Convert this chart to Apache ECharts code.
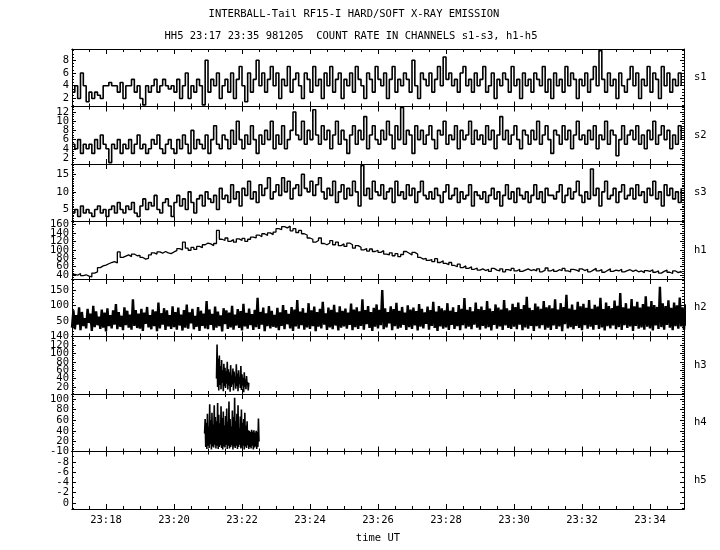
<!DOCTYPE html>
<html><head><meta charset="utf-8">
<script src="https://cdn.jsdelivr.net/npm/echarts@6/dist/echarts.min.js"></script>
<style>html,body{margin:0;padding:0;background:#fff}#c{width:720px;height:550px}</style>
</head><body><div id="c"></div><script>
// ---------------- data ----------------
const titleLine1 = 'INTERBALL-Tail RF15-I HARD/SOFT X-RAY EMISSION';
const titleLine2 = 'HH5 23:17 23:35 981205  COUNT RATE IN CHANNELS s1-s3, h1-h5';
const xAxisName = 'time UT';
const channels = ['s1','s2','s3','h1','h2','h3','h4','h5'];
// time axis in minutes after 23:00
const xMin = 17, xMax = 35;
const xTickMinutes = [18,20,22,24,26,28,30,32,34];
const xTickLabels = ['23:18','23:20','23:22','23:24','23:26','23:28','23:30','23:32','23:34'];
const yMin = [0.75, 0.7, 1.6, 31, 2, 3.5, 1.4, -10];
const yMax = [9.75, 13.2, 17.9, 167, 185, 140, 109, 1.2];
const yStep = [2, 2, 5, 20, 50, 20, 20, 2];
const yMinorSplit = [4, 4, 10, 4, 5, 4, 4, 2];
// sampling: start minute and cadence (minutes)
const sStart = 17, sCadence = 5/60;
const h2Start = 17, h2Cadence = 2.5/60;
const h3Start = 21.25, h3Cadence = 1/60;
const h4Start = 20.9, h4Cadence = 1/60;

const s1 = [3,4,2,6,4,1.5,3,2,3,2.5,2,4,4,4.5,4,4,3,4.5,
2,4,4,5,3,4,2,1,4,3,4,5,3,4,5,4,3.5,4,
3,5,2,4,6,2,4,3,5,4,1,8,3,5,4,6,2,4,
5,3,6,2,5,7,4,1.5,6,3,5,8,4,6,3,5,7,4,
6,2,5,4,7,3,5,6,4,2,6,5,3,7,4,5,2,6,
4,7,3,5,6,2,5,4,6,3,7,5,4,2,6,5,3,7,
5,4,6,2,5,7,3,5,4,6,5,3,8,4,2,6,5,4,
6,3,5,7,4,8.5,5,6,4,5,3,6,7,4,5,3,6,4,
5,7,3,4,6,2,5,4,6,5,3,7,4,5,2,6,4,5,
3,6,5,4,7,3,5,2,6,4,5,3,7,4,6,5,2,5,
4,6,3,5,7,4,9.5,5,3,6,4,5,2,6,4,3,5,7,
4,6,2,5,4,7,3,6,5,2,7,4,6,3,5,4,6,4];

const s2 = [5,4,6,3,5,4,5,3,6,4,7,5,4,1,5,4,6,3,
5,4,6,3,5,7,4,5,3,4,6,5,7,4,3,5,6,4,
3,6,4,7,5,3,8,4,6,5,4,7,3,6,9,5,4,7,
6,4,8,5,10,6,4,7,5,9,6,3,7,5,8,6,10,4,
7,5,9,4,6,8,12,7,6,10,5,8,6,12.5,7,5,9,6,
8,4,7,10,5,8,6,3,7,9,5,8,6,11,4,7,9,6,
5,8,6,10,7,4,9,6,13,5,8,7,3,9,6,8,5,7,
9,6,4,8,7,10,5,7,6,9,4,8,6,7,10,5,8,6,
7,5,9,6,8,4,7,11,6,8,5,7,9,6,4,8,7,5,
8,6,10,5,7,9,6,3,8,7,5,9,6,8,4,7,10,6,
7,5,8,6,9,4,7,6,10,5,8,7,2.5,6,9,5,7,8,
6,9,5,7,4,8,6,10,5,7,9,6,8,4,7,5,9,6];

const s3 = [4,5,3,6,4,5,4,3,5,6,4,5,3,5,6,4,7,5,
4,6,5,7,4,3,6,8,5,7,6,9,5,4,7,8,6,3,
7,9,6,8,5,10,7,4,8,9,6,10,8,7,9,5,11,8,
9,7,12,8,10,6,11,9,13,8,10,7,12,9,11,14,8,10,
12,9,14,10,13,8,11,12,9,15,11,10,13,9,12,14,10,8,
11,9,13,7,10,12,8,11,9,13,10,6,17.5,9,11,8,13,10,
9,12,8,10,11,7,13,9,10,8,12,9,11,7,10,13,9,8,
10,8,11,9,7,10,12,8,9,11,7,10,8,9,12,6,10,9,
8,10,7,9,11,8,10,6,9,12,8,10,7,11,9,8,10,7,
9,12,8,10,7,11,9,9,8,10,12,7,9,11,8,10,13,9,
7,10,8,16.5,9,11,6,10,13,8,9,11,7,10,12,8,9,11,
8,12,9,10,7,11,9,13,8,10,6,12,9,11,8,10,7,11];

const h1 = [42,40,44,39,41,38,36,45,48,58,62,64,67,70,72,69,95,82,
85,88,84,90,86,87,82,78,80,88,93,90,95,92,96,93,91,95,
98,103,100,118,104,99,106,101,108,105,112,116,114,110,115,146,125,122,
128,120,124,118,126,122,127,120,125,130,128,135,131,138,134,140,136,142,
150,148,155,152,156,145,150,141,146,138,135,128,125,118,122,128,115,112,
116,122,112,118,110,114,108,116,112,104,110,106,100,103,97,102,96,99,
94,98,90,88,93,86,91,84,89,96,92,88,94,90,82,78,80,75,
77,72,79,70,74,68,65,70,63,60,66,58,62,56,60,54,57,52,
55,51,54,49,56,52,50,55,48,53,51,56,50,54,49,52,55,51,
53,50,55,48,52,57,50,54,49,53,51,56,50,48,54,52,49,55,
51,54,48,52,56,50,53,47,51,55,49,52,50,54,48,51,53,49,
52,48,50,46,51,49,53,47,50,45,49,52,47,44,50,46,49,45];

const h2 = [30,85,25,70,40,95,22,80,35,60,28,90,45,75,20,100,32,82,38,65,26,88,30,78,
18,92,35,70,28,85,40,105,25,80,33,68,22,95,38,84,30,72,24,120,36,86,29,75,
27,90,20,78,42,96,31,70,25,88,35,82,19,110,28,76,40,92,23,85,34,70,26,98,
32,80,24,94,37,72,21,86,30,104,27,79,44,90,25,68,33,96,20,84,36,75,28,115,
25,88,39,74,22,97,30,81,35,69,18,92,41,85,26,78,31,100,24,72,37,89,29,83,
21,106,34,77,27,91,38,73,23,87,32,125,26,80,40,94,19,76,35,99,28,84,33,71,
30,93,22,79,36,102,25,86,41,74,28,96,20,88,34,118,27,81,38,92,24,77,31,108,
26,85,35,97,19,80,33,90,28,112,40,76,23,94,31,87,25,103,37,79,21,98,30,84,
34,91,27,78,39,107,22,88,32,95,26,82,36,120,24,86,41,99,29,80,20,93,33,104,
28,87,38,150,25,92,31,80,44,98,22,89,35,109,27,84,30,96,39,78,23,101,32,88,
26,94,37,83,21,105,33,90,28,79,42,97,24,86,36,112,29,81,20,99,34,92,27,85,
31,108,23,84,39,95,26,80,35,102,22,90,38,124,28,87,33,96,25,82,40,110,30,89,
24,97,36,86,28,115,32,91,21,83,39,104,27,94,34,88,23,118,37,92,29,85,26,106,
33,96,25,110,40,89,22,102,31,128,27,93,36,86,20,107,35,97,28,90,38,115,24,95,
30,101,23,92,37,120,26,88,34,108,19,96,41,135,28,91,32,104,25,87,36,112,29,98,
22,106,38,93,27,118,33,90,24,103,39,97,26,125,31,89,21,110,35,99,28,92,37,116,
25,100,32,140,23,95,38,108,29,91,34,121,20,98,36,112,27,94,31,105,24,130,33,97,
28,115,21,102,37,96,26,160,32,108,24,99,39,117,30,93,22,110,35,101,27,126,34,95,
23,104,36,97,29,122,25,92,38,109,31,100,20,118,34,94,27,106,37,128,24,98,32,111,
30,96,22,113,35,102,28,90,39,119,25,99,33,107,21,95,36,115,27,92,31,104,26,100,
34,93,24,108,30,97,37,88,22,102,29,116,35,91,26,99,32,86,20,105,38,94,28,90,
25,98,33,87,21,104,36,92,27,83,31,110,24,95,38,86,29,100,22,89,34,124,26,91,
30,85,23,96,37,80,26,92,33,104,20,87,35,78,28,99,24,90,39,84,27,95,31,82,
22,93,34,80,26,88,31,102,19,84,36,91,25,77,33,96,28,86,21,110,35,82,29,90,
26,84,20,95,33,78,24,90,37,86,18,99,30,81,27,92,22,76,35,88,25,104,31,80,
19,91,28,83,34,97,21,79,30,89,25,85,36,120,23,80,29,94,17,86,32,78,26,92,
14,67,21,60,12,76,25,64,17,71,13,57,23,79,16,63,10,70,20,66,15,59,24,75,
12,62,18,73,9,65,22,58,15,80,20,68,11,61,25,74,13,64,17,56,10,98,21,67,
16,70,10,60,23,75,12,64,19,58,14,82,26,66,11,71,21,62,9,77,18,65,15,59,
20,73,11,64,17,105,10,60,24,69,15,76,12,63,22,58,16,84,9,67,19,61,25,72,
13,65,18,79,11,62,23,70,14,92,21,60,9,74,17,66,25,59,12,80,20,64,15,68,
10,77,22,63,16,70,12,58,20,85,14,66,26,61,11,73,18,68,8,125,23,64,15,60,
19,71,11,65,24,76,14,59,9,68,21,82,16,63,12,75,25,60,17,70,10,66,22,78,
14,62,20,74,11,67,17,95,23,60,12,72,18,65,9,79,21,63,15,70,11,84,24,66,
16,69,10,61,22,76,13,64,19,90,11,67,25,59,14,73,9,65,20,80,17,62,23,71,
12,75,18,60,10,68,24,82,15,64,21,72,9,66,17,77,13,61,26,100,16,69,20,65];

const h3 = [40,121,20,88,12,95,25,70,15,84,30,60,10,75,22,66,18,58,28,80,
14,62,24,55,9,72,20,48,26,64,12,57,30,45,16,74,22,52,10,60,
27,44,18,70,13,50,24,42,8,55,21,38,15,46,25,32,12,30];

const h4 = [35,62,10,55,6,72,12,48,8,90,15,60,5,74,11,52,9,88,14,66,
7,58,12,92,6,70,10,54,13,86,8,64,5,76,11,50,9,68,14,82,
6,57,12,95,7,62,10,48,13,78,5,66,11,102,8,58,12,72,6,88,
10,45,14,67,7,80,9,55,12,62,5,74,11,50,8,58,13,41,6,40,
10,38,7,42,12,39,5,41,9,37,11,40,6,38,10,63,20];

const h5 = [];

// ---------------- chart ----------------
const FONT = 'DejaVu Sans Mono';
const FS = 10.5;
const seriesValues = [s1, s2, s3, h1, h2, h3, h4, h5];
const seriesStart = [sStart, sStart, sStart, sStart, h2Start, h3Start, h4Start, sStart];
const seriesCadence = [sCadence, sCadence, sCadence, sCadence, h2Cadence, h3Cadence, h4Cadence, sCadence];
const stepped = [true, true, true, true, false, false, false, false];
const lineW = [1.6, 1.6, 1.6, 1.3, 2.4, 1.6, 1.6, 1];

const top0 = 49, panelH = 57.5, gridLeft = 72, gridRight = 36;
const grids = [], xAxes = [], yAxes = [], series = [], graphics = [];
const isMult = (v, st) => Math.abs(v / st - Math.round(v / st)) < 1e-9;

function mkX(i, pos, major, labels) {
  const o = {type:'value', gridIndex:i, position:pos, min:xMin, max:xMax,
    axisLine:{show:true, onZero:false, lineStyle:{color:'#000', width:1}},
    axisTick:{show:true, inside:true, length: major ? 5 : 3, lineStyle:{color:'#000', width:1}},
    axisLabel:{show:false}, splitLine:{show:false}};
  if (major) { o.minInterval = 2; o.maxInterval = 2; o.splitNumber = 9; }
  else { o.interval = 0.5; }
  if (labels) {
    o.axisLabel = {show:true, color:'#000', fontFamily:FONT, fontSize:FS, margin:6,
      showMinLabel:false, showMaxLabel:false,
      formatter: v => { const k = xTickMinutes.indexOf(Math.round(v)); return k >= 0 ? xTickLabels[k] : ''; }};
  }
  return o;
}
// kind: 'main' (ticks + interior labels), 'right' (ticks only), 'edge' (label at a nice axis end only)
function mkY(i, kind) {
  const st = yStep[i];
  const edgeVals = [yMin[i], yMax[i]].filter(v => isMult(v, st));
  const o = {type:'value', gridIndex:i, position: kind === 'right' ? 'right' : 'left',
    min:yMin[i], max:yMax[i],
    minInterval:st, maxInterval:st, splitNumber:Math.round((yMax[i]-yMin[i])/st),
    inverse: i === 7,
    axisLine:{show: kind !== 'edge', onZero:false, lineStyle:{color:'#000', width:1}},
    axisTick:{show: kind !== 'edge', inside:true, length:4, lineStyle:{color:'#000', width:1}},
    minorTick:{show: kind !== 'edge', splitNumber:yMinorSplit[i], length:2, lineStyle:{color:'#000', width:1}},
    axisLabel:{show: kind !== 'right', color:'#000', fontFamily:FONT, fontSize:FS, margin:3,
      showMinLabel:false, showMaxLabel:false},
    splitLine:{show:false}, minorSplitLine:{show:false}};
  if (kind === 'edge') {
    o.axisLabel.showMinLabel = isMult(yMin[i], st);
    o.axisLabel.showMaxLabel = isMult(yMax[i], st);
    o.axisLabel.formatter = v => edgeVals.some(e => Math.abs(e - v) < 1e-9) ? String(v) : '';
  }
  return o;
}

for (let i = 0; i < 8; i++) {
  grids.push({left:gridLeft, right:gridRight, top:top0 + i*panelH, height:panelH,
    containLabel:false, outerBoundsMode:'none'});
  xAxes.push(mkX(i, 'bottom', false, false));
  xAxes.push(mkX(i, 'bottom', true, i === 7));
  xAxes.push(mkX(i, 'top', false, false));
  xAxes.push(mkX(i, 'top', true, false));
  const yIdx = yAxes.length;
  yAxes.push(mkY(i, 'main'));
  yAxes.push(mkY(i, 'right'));
  if (isMult(yMin[i], yStep[i]) || isMult(yMax[i], yStep[i])) yAxes.push(mkY(i, 'edge'));
  const vals = seriesValues[i];
  series.push({type:'line', name:channels[i], xAxisIndex:i*4, yAxisIndex:yIdx,
    data: vals.map((v, k) => [seriesStart[i] + k*seriesCadence[i], v]),
    step: stepped[i] ? 'end' : false, showSymbol:false, symbol:'none',
    lineStyle:{color:'#000', width:lineW[i]}, animation:false, silent:true, z:3});
  graphics.push({type:'text', x:694, y:top0 + i*panelH + panelH/2,
    style:{text:channels[i], font:FS + 'px "' + FONT + '"', fill:'#000',
      verticalAlign:'middle', textVerticalAlign:'middle'}});
}
graphics.push({type:'text', x:354, y:14, style:{text:titleLine1, font:FS + 'px "' + FONT + '"', fill:'#000',
  align:'center', verticalAlign:'middle', textAlign:'center', textVerticalAlign:'middle'}});
graphics.push({type:'text', x:351, y:36, style:{text:titleLine2, font:FS + 'px "' + FONT + '"', fill:'#000',
  align:'center', verticalAlign:'middle', textAlign:'center', textVerticalAlign:'middle'}});
graphics.push({type:'text', x:378, y:538, style:{text:xAxisName, font:FS + 'px "' + FONT + '"', fill:'#000',
  align:'center', verticalAlign:'middle', textAlign:'center', textVerticalAlign:'middle'}});

const chart = echarts.init(document.getElementById('c'), null, {renderer:'canvas'});
chart.setOption({animation:false, backgroundColor:'#fff',
  grid:grids, xAxis:xAxes, yAxis:yAxes, series:series, graphic:graphics});
</script></body></html>
